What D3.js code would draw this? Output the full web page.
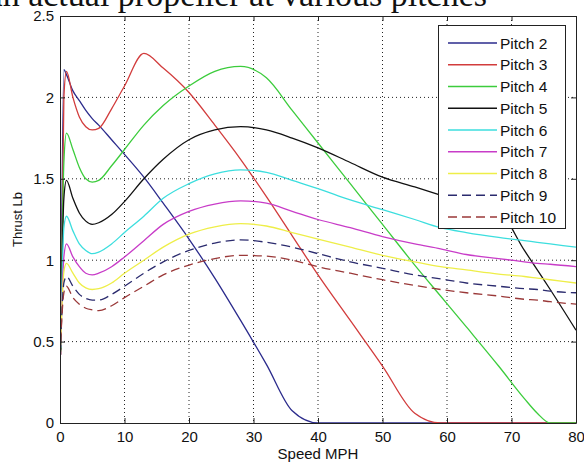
<!DOCTYPE html>
<html>
<head>
<meta charset="utf-8">
<script src="https://cdn.jsdelivr.net/npm/d3@7"></script>
<style>
  body { margin: 0; background: #fff; }
  svg { display: block; }
  text { font-family: Arial, "Liberation Sans", sans-serif; fill: #111; }
</style>
</head>
<body>
<svg id="chart" width="584" height="463"></svg>
<script>
var speeds = [0.1, 0.6, 1, 2, 3, 4, 5, 6, 8, 10, 13, 16, 20, 24, 28, 32, 36, 40, 45, 50, 55, 59, 63, 68, 72, 74, 76, 80];

var pitch2  = [0.42, 2.17, 2.14, 2.04, 1.98, 1.92, 1.87, 1.83, 1.74, 1.65, 1.51, 1.35, 1.13, 0.89, 0.63, 0.36, 0.075, 0, 0, 0, 0, 0, 0, 0, 0, 0, 0, 0];
var pitch3  = [0.42, 2.0, 2.16, 2.0, 1.88, 1.82, 1.8, 1.81, 1.93, 2.07, 2.27, 2.18, 2.03, 1.83, 1.62, 1.39, 1.15, 0.91, 0.63, 0.35, 0.06, 0, 0, 0, 0, 0, 0, 0];
var pitch4  = [0.44, 1.6, 1.78, 1.68, 1.57, 1.5, 1.48, 1.49, 1.58, 1.68, 1.83, 1.95, 2.07, 2.16, 2.19, 2.12, 1.92, 1.72, 1.47, 1.22, 0.97, 0.78, 0.59, 0.35, 0.15, 0.06, 0, 0];
var pitch5  = [0.45, 1.38, 1.49, 1.38, 1.29, 1.24, 1.22, 1.23, 1.28, 1.36, 1.5, 1.62, 1.74, 1.8, 1.82, 1.8, 1.75, 1.69, 1.6, 1.51, 1.45, 1.4, 1.35, 1.3, 1.06, 0.94, 0.82, 0.57];
var pitch6  = [0.46, 1.2, 1.27, 1.18, 1.1, 1.06, 1.04, 1.05, 1.1, 1.17, 1.27, 1.38, 1.47, 1.53, 1.555, 1.54, 1.49, 1.44, 1.37, 1.31, 1.25, 1.2, 1.17, 1.14, 1.12, 1.11, 1.1, 1.08];
var pitch7  = [0.47, 1.02, 1.1, 1.02, 0.96, 0.92, 0.91, 0.92, 0.96, 1.02, 1.12, 1.22, 1.3, 1.345, 1.365, 1.35, 1.3, 1.25, 1.2, 1.145, 1.1, 1.07, 1.035, 1.01, 0.99, 0.98, 0.975, 0.96];
var pitch8  = [0.48, 0.93, 0.98, 0.92, 0.86, 0.83, 0.82, 0.825, 0.86, 0.92, 1.0, 1.08, 1.16, 1.205, 1.225, 1.21, 1.17, 1.13, 1.08, 1.03, 0.99, 0.96, 0.94, 0.915, 0.9, 0.89, 0.88, 0.86];
var pitch9  = [0.49, 0.86, 0.9, 0.84, 0.79, 0.765, 0.755, 0.755, 0.79, 0.84, 0.92, 0.99, 1.06, 1.105, 1.125, 1.11, 1.08, 1.04, 0.99, 0.95, 0.91, 0.885, 0.86, 0.84, 0.825, 0.82, 0.81, 0.8];
var pitch10 = [0.5, 0.8, 0.84, 0.77, 0.73, 0.705, 0.695, 0.69, 0.72, 0.77, 0.84, 0.91, 0.97, 1.01, 1.03, 1.025, 1.0, 0.96, 0.92, 0.88, 0.845, 0.82, 0.8, 0.78, 0.76, 0.755, 0.745, 0.73];

var seriesNames = ["Pitch 2", "Pitch 3", "Pitch 4", "Pitch 5", "Pitch 6", "Pitch 7", "Pitch 8", "Pitch 9", "Pitch 10"];
var seriesValues = [pitch2, pitch3, pitch4, pitch5, pitch6, pitch7, pitch8, pitch9, pitch10];
var seriesColors = ["#2b2b8c", "#d23c3c", "#3ccc3c", "#111111", "#3cdede", "#c83cc8", "#eeee48", "#2b2b6e", "#9a3838"];
var seriesDashed = [false, false, false, false, false, false, false, true, true];

var xTicks = [0, 10, 20, 30, 40, 50, 60, 70, 80];
var yTicks = [0, 0.5, 1, 1.5, 2, 2.5];

var plotLeft = 60, plotRight = 576, plotTop = 16, plotBottom = 423;

var svg = d3.select("#chart");

var x = d3.scaleLinear().domain([0, 80]).range([plotLeft, plotRight]);
var y = d3.scaleLinear().domain([0, 2.5]).range([plotBottom, plotTop]);

// title (cut off at top in the original)
svg.append("text")
    .attr("x", 487)
    .attr("y", 5.5)
    .attr("text-anchor", "end")
    .style("font-family", "'Liberation Serif', 'Times New Roman', serif")
    .style("font-size", "34px")
    .text("Thrust of an actual propeller at various pitches");

// grid
var grid = svg.append("g");
grid.selectAll(".vgrid")
    .data(xTicks.slice(1, -1))
  .enter().append("line")
    .attr("x1", function(d) { return x(d); })
    .attr("x2", function(d) { return x(d); })
    .attr("y1", plotTop)
    .attr("y2", plotBottom)
    .attr("stroke", "#222")
    .attr("stroke-width", 1)
    .attr("stroke-dasharray", "1,3");

grid.selectAll(".hgrid")
    .data(yTicks.slice(1, -1))
  .enter().append("line")
    .attr("x1", plotLeft)
    .attr("x2", plotRight)
    .attr("y1", function(d) { return y(d); })
    .attr("y2", function(d) { return y(d); })
    .attr("stroke", "#222")
    .attr("stroke-width", 1)
    .attr("stroke-dasharray", "1,3");

// lines
svg.append("clipPath").attr("id", "plotclip")
  .append("rect")
    .attr("x", plotLeft).attr("y", plotTop)
    .attr("width", plotRight - plotLeft).attr("height", plotBottom - plotTop);

var line = d3.line()
    .x(function(d) { return x(d[0]); })
    .y(function(d) { return y(d[1]); })
    .curve(d3.curveMonotoneX);

var lines = svg.append("g").attr("clip-path", "url(#plotclip)");
for (var i = 0; i < seriesValues.length; i++) {
  var pts = speeds.map(function(s, j) { return [s, seriesValues[i][j]]; });
  lines.append("path")
      .datum(pts)
      .attr("d", line)
      .attr("fill", "none")
      .attr("stroke", seriesColors[i])
      .attr("stroke-width", 1.3)
      .attr("stroke-dasharray", seriesDashed[i] ? "9,5" : null);
}

// axes
var xAxis = d3.axisBottom(x).tickValues(xTicks).tickSizeInner(-5).tickSizeOuter(0).tickPadding(8);
var yAxis = d3.axisLeft(y).tickValues(yTicks).tickSizeInner(-5).tickSizeOuter(0).tickPadding(6)
    .tickFormat(function(d) { return d; });
var xTop = d3.axisTop(x).tickValues(xTicks).tickSizeInner(-5).tickSizeOuter(0).tickFormat("");
var yRight = d3.axisRight(y).tickValues(yTicks).tickSizeInner(-5).tickSizeOuter(0).tickFormat("");

function styleAxis(g) {
  g.select(".domain").attr("stroke", "#222");
  g.selectAll(".tick line").attr("stroke", "#222");
  g.selectAll(".tick text")
      .style("font-family", "Arial, 'Liberation Sans', sans-serif")
      .style("font-size", "15px")
      .attr("fill", "#222");
}

svg.append("g").attr("transform", "translate(0," + plotBottom + ")").call(xAxis).call(styleAxis);
svg.append("g").attr("transform", "translate(" + plotLeft + ",0)").call(yAxis).call(styleAxis);
svg.append("g").attr("transform", "translate(0," + plotTop + ")").call(xTop).call(styleAxis);
svg.append("g").attr("transform", "translate(" + plotRight + ",0)").call(yRight).call(styleAxis);

// axis labels
svg.append("text")
    .attr("x", (plotLeft + plotRight) / 2)
    .attr("y", 459)
    .attr("text-anchor", "middle")
    .style("font-size", "15px")
    .text("Speed MPH");

svg.append("text")
    .attr("transform", "translate(22," + ((plotTop + plotBottom) / 2) + ") rotate(-90)")
    .attr("text-anchor", "middle")
    .style("font-size", "13px")
    .text("Thrust Lb");

// legend
var legend = svg.append("g");
legend.append("rect")
    .attr("x", 438.5).attr("y", 25.5)
    .attr("width", 127).attr("height", 203)
    .attr("fill", "#fff")
    .attr("stroke", "#222")
    .attr("stroke-width", 1);

var rows = legend.selectAll(".row")
    .data(seriesNames)
  .enter().append("g")
    .attr("transform", function(d, i) { return "translate(0," + (43 + i * 21.75) + ")"; });

rows.append("line")
    .attr("x1", 448).attr("x2", 497)
    .attr("stroke", function(d, i) { return seriesColors[i]; })
    .attr("stroke-width", 1.3)
    .attr("stroke-dasharray", function(d, i) { return seriesDashed[i] ? "9,5" : null; });

rows.append("text")
    .attr("x", 500)
    .attr("y", 5.5)
    .style("font-size", "15.5px")
    .text(function(d) { return d; });
</script>
</body>
</html>
